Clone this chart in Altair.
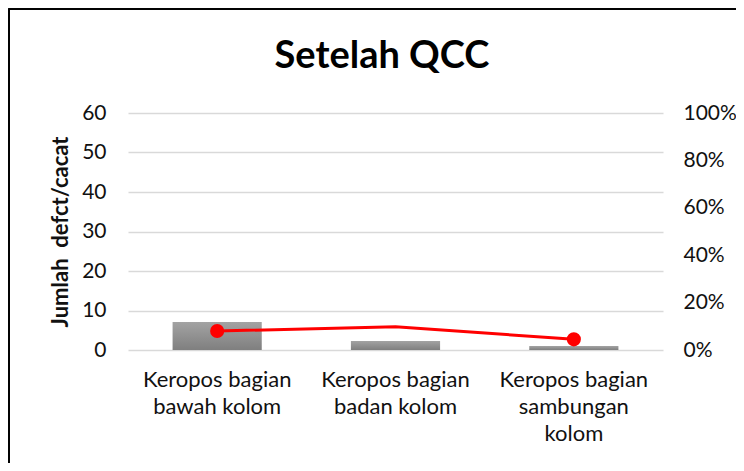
import altair as alt
import pandas as pd

TITLE = "Setelah QCC"
Y_TITLE = "Jumlah\u00a0 defct/cacat"
categories = ["Keropos bagian|bawah kolom", "Keropos bagian|badan kolom", "Keropos bagian|sambungan|kolom"]
defects = [7.1, 2.3, 1.0]
percent = [0.08, 0.098, 0.045]
marker = [True, False, True]

df = pd.DataFrame({"cat": categories, "defects": defects, "pct": percent, "marker": marker})

FONT = "Lato"
TXT = "#111111"

x = alt.X("cat:N", sort=categories, title=None,
          scale=alt.Scale(paddingInner=0.5, paddingOuter=0.25),
          axis=alt.Axis(labelAngle=0, labelExpr="split(datum.label, '|')", labelFontSize=22,
                        labelLineHeight=27, labelPadding=19, ticks=False, domain=False,
                        labelColor=TXT, labelFont=FONT, labelBaseline="top"))

bars = alt.Chart(df).mark_bar(
    color=alt.Gradient(gradient="linear", x1=0, y1=0, x2=0, y2=1,
                       stops=[alt.GradientStop(color="#a3a3a3", offset=0),
                              alt.GradientStop(color="#7f7f7f", offset=1)])
).encode(
    x=x,
    y=alt.Y("defects:Q", scale=alt.Scale(domain=[0, 60]), title=Y_TITLE,
            axis=alt.Axis(values=[0, 10, 20, 30, 40, 50, 60], ticks=False, domain=False,
                          labelFontSize=21, labelPadding=22, labelColor=TXT, labelFont=FONT,
                          gridColor="#d9d9d9", gridWidth=1.5,
                          titleFontSize=22, titleFont=FONT, titleFontWeight="bold",
                          titleColor=TXT, titlePadding=9))
)

pct_axis = alt.Axis(orient="right", values=[0, 0.2, 0.4, 0.6, 0.8, 1.0], format=".0%",
                    ticks=False, domain=False, grid=False, labelFontSize=21,
                    labelPadding=20, labelColor=TXT, labelFont=FONT)

line = alt.Chart(df).mark_line(color="#ff0000", strokeWidth=3).encode(
    x=x,
    y=alt.Y("pct:Q", scale=alt.Scale(domain=[0, 1]), title=None, axis=pct_axis)
)

pts = alt.Chart(df).transform_filter("datum.marker").mark_point(
    filled=True, color="#ff0000", size=200, opacity=1
).encode(
    x=x,
    y=alt.Y("pct:Q", scale=alt.Scale(domain=[0, 1]), title=None, axis=pct_axis)
)

frame = alt.Chart(df).mark_rect(fill=None, stroke="#000000", strokeWidth=1.5, clip=False).encode(
    x=alt.value(-119), x2=alt.value(613), y=alt.value(-104), y2=alt.value(354)
)

title = alt.Chart(df).transform_filter("datum.marker").transform_window(
    rn="row_number()").transform_filter("datum.rn == 1").mark_text(
    text=TITLE, font=FONT, fontSize=38, fontWeight="bold", color="#000000",
    align="center", baseline="alphabetic"
).encode(x=alt.value(254), y=alt.value(-45))

chart = alt.layer(bars, alt.layer(line, pts), frame, title).resolve_scale(y="independent").properties(
    width=535, height=237,
    autosize=alt.AutoSizeParams(type="none"),
    padding={"left": 120, "top": 105, "right": 73, "bottom": 113},
    background="white",
).configure_view(stroke=None)

chart.save("out.html", embed_options={"renderer": "svg", "actions": False})
